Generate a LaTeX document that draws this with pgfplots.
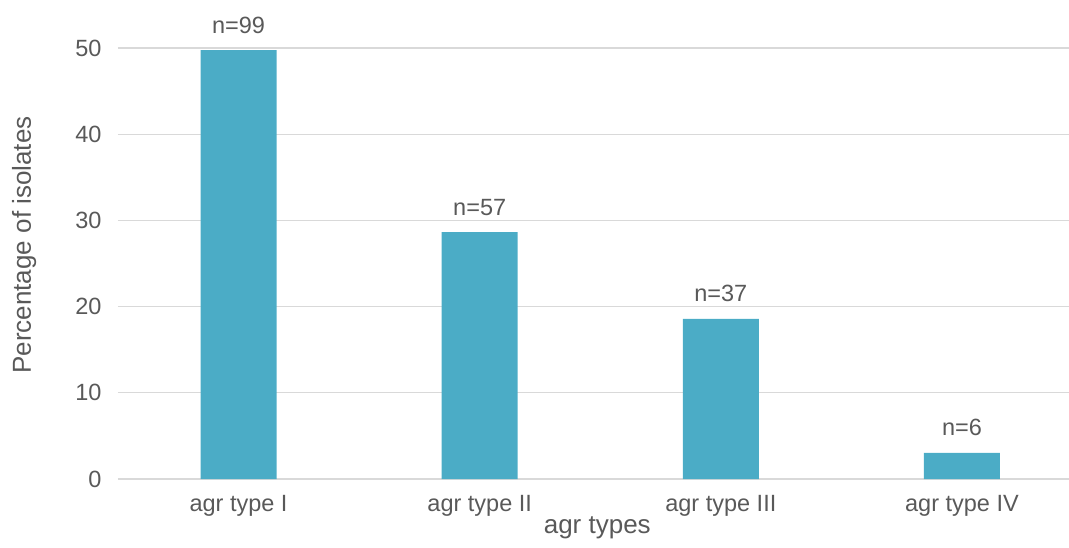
\documentclass[border=0pt]{standalone}
\usepackage{fontspec}
\setmainfont{Liberation Sans}
\usepackage{pgfplots}
\pgfplotsset{compat=1.18}
\definecolor{barblue}{HTML}{4BACC6}
\definecolor{txtgray}{HTML}{595959}
\definecolor{gridgray}{HTML}{D9D9D9}
\begin{document}
\begin{tikzpicture}
\useasboundingbox (0pt,0pt) rectangle (1069pt,547pt);
\begin{axis}[
  at={(118pt,68pt)}, anchor=south west,
  scale only axis, width=951pt, height=431pt,
  xmin=-0.5, xmax=3.444, ymin=0, ymax=50,
  clip=false,
  axis line style={draw=none},
  major tick length=0pt,
  ytick={0,10,20,30,40,50},
  ymajorgrids,
  grid style={gridgray, line width=1.3pt},
  xtick={0,1,2,3},
  xticklabels={agr type I, agr type II, agr type III, agr type IV},
  /pgf/number format/assume math mode=true,
  tick label style={font=\fontsize{23.5}{28}\selectfont, text=txtgray},
  yticklabel style={xshift=-13pt},
  xticklabel style={yshift=-13pt},
  xlabel={agr types},
  ylabel={Percentage of isolates},
  label style={font=\fontsize{26}{31}\selectfont, text=txtgray},
  xlabel style={at={(rel axis cs:0.504,-0.1253)}, anchor=base},
  ylabel style={at={(rel axis cs:-0.0915,0.543)}, anchor=base},
  ybar, bar width=76pt,
  point meta=explicit symbolic,
  nodes near coords={n=\pgfplotspointmeta},
  every node near coord/.append style={anchor=base, yshift=17pt,
    font=\fontsize{23.5}{28}\selectfont, text=txtgray},
]
\addplot[fill=barblue, draw=none] coordinates {
  (0,49.75) [99]
  (1,28.64) [57]
  (2,18.59) [37]
  (3,3.02)  [6]
};
\end{axis}
\end{tikzpicture}
\end{document}
